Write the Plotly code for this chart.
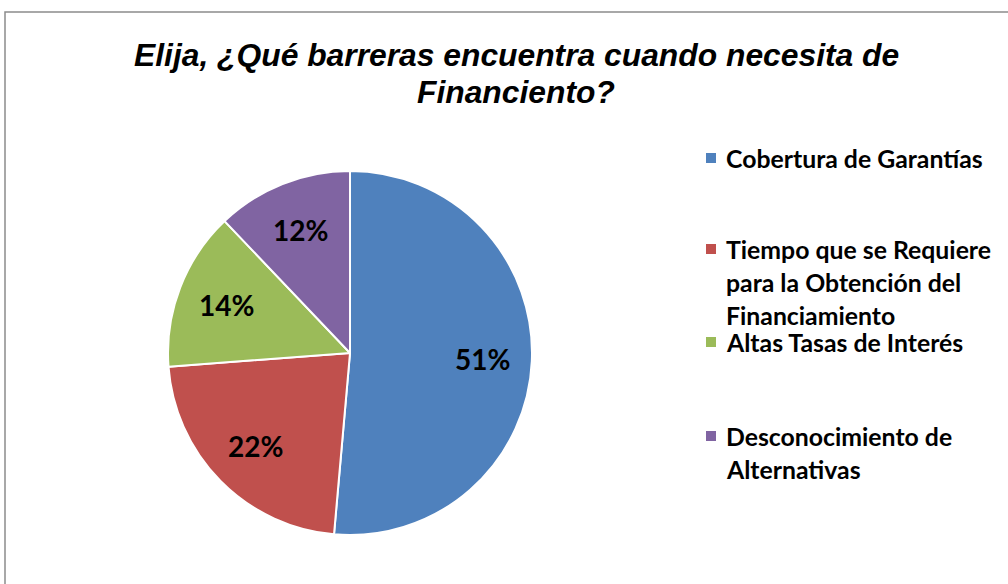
import math
import plotly.graph_objects as go

W, H = 1008, 584

title_lines = ["Elija, ¿Qué barreras encuentra cuando necesita de", "Financiento?"]
labels = ["Cobertura de Garantías",
          "Tiempo que se Requiere para la Obtención del Financiamiento",
          "Altas Tasas de Interés",
          "Desconocimiento de Alternativas"]
values = [51.4, 22.4, 14.1, 12.1]
colors = ["#4F81BD", "#C0504D", "#9BBB59", "#8064A2"]
legend_lines = [["Cobertura de Garantías"],
                ["Tiempo que se Requiere", "para la Obtención del", "Financiamiento"],
                ["Altas Tasas de Interés"],
                ["Desconocimiento de", "Alternativas"]]


def px(x):
    return x / W


def py(y):
    return 1 - y / H


# pie geometry (pixel layout)
cx, cy, R = 350, 353, 182
label_r = 0.73

fig = go.Figure()
fig.add_trace(go.Pie(
    labels=labels, values=values, sort=False, direction="clockwise", rotation=0,
    marker=dict(colors=colors, line=dict(color="white", width=2)),
    textinfo="none",
    domain=dict(x=[px(cx - R), px(cx + R)], y=[py(cy + R), py(cy - R)]),
    showlegend=False, hoverinfo="label+percent"))

annotations = []
for k, t in enumerate(title_lines):
    annotations.append(dict(text="<b><i>" + t + "</i></b>", x=px(516), y=py(55 + 37 * k),
                            xref="paper", yref="paper", xanchor="center", yanchor="middle",
                            showarrow=False,
                            font=dict(family="Liberation Sans", size=31.8, color="black")))

total = sum(values)
cum = 0.0
for v in values:
    mid = (cum + v / 2) / total * 2 * math.pi
    cum += v
    lx = cx + label_r * R * math.sin(mid)
    ly = cy - label_r * R * math.cos(mid)
    annotations.append(dict(text="<b>%d%%</b>" % round(100 * v / total), x=px(lx), y=py(ly),
                            xref="paper", yref="paper", xanchor="center", yanchor="middle",
                            showarrow=False,
                            font=dict(family="Lato", size=28, color="black")))

shapes = [dict(type="rect", xref="paper", yref="paper", x0=px(5), x1=px(1030),
               y0=py(620), y1=py(12), line=dict(color="#8c8c8c", width=1.5),
               fillcolor="rgba(0,0,0,0)", layer="below")]

item_y = [158, 249, 342, 436]
line_h = 33
for i, lines in enumerate(legend_lines):
    y0 = item_y[i]
    shapes.append(dict(type="rect", xref="paper", yref="paper",
                       x0=px(706), x1=px(716), y0=py(y0 + 5), y1=py(y0 - 5),
                       fillcolor=colors[i], line=dict(width=0)))
    for j, ln in enumerate(lines):
        annotations.append(dict(text="<b>" + ln + "</b>", x=px(724), y=py(y0 + j * line_h),
                                xref="paper", yref="paper", xanchor="left", yanchor="middle",
                                showarrow=False,
                                font=dict(family="Lato", size=24.8, color="black")))

fig.update_layout(width=W, height=H, margin=dict(l=0, r=0, t=0, b=0),
                  paper_bgcolor="white", plot_bgcolor="white",
                  annotations=annotations, shapes=shapes)
fig.write_html("out.html", config={"displayModeBar": False},
               post_script="document.body.style.margin='0';document.body.style.overflow='hidden';")
